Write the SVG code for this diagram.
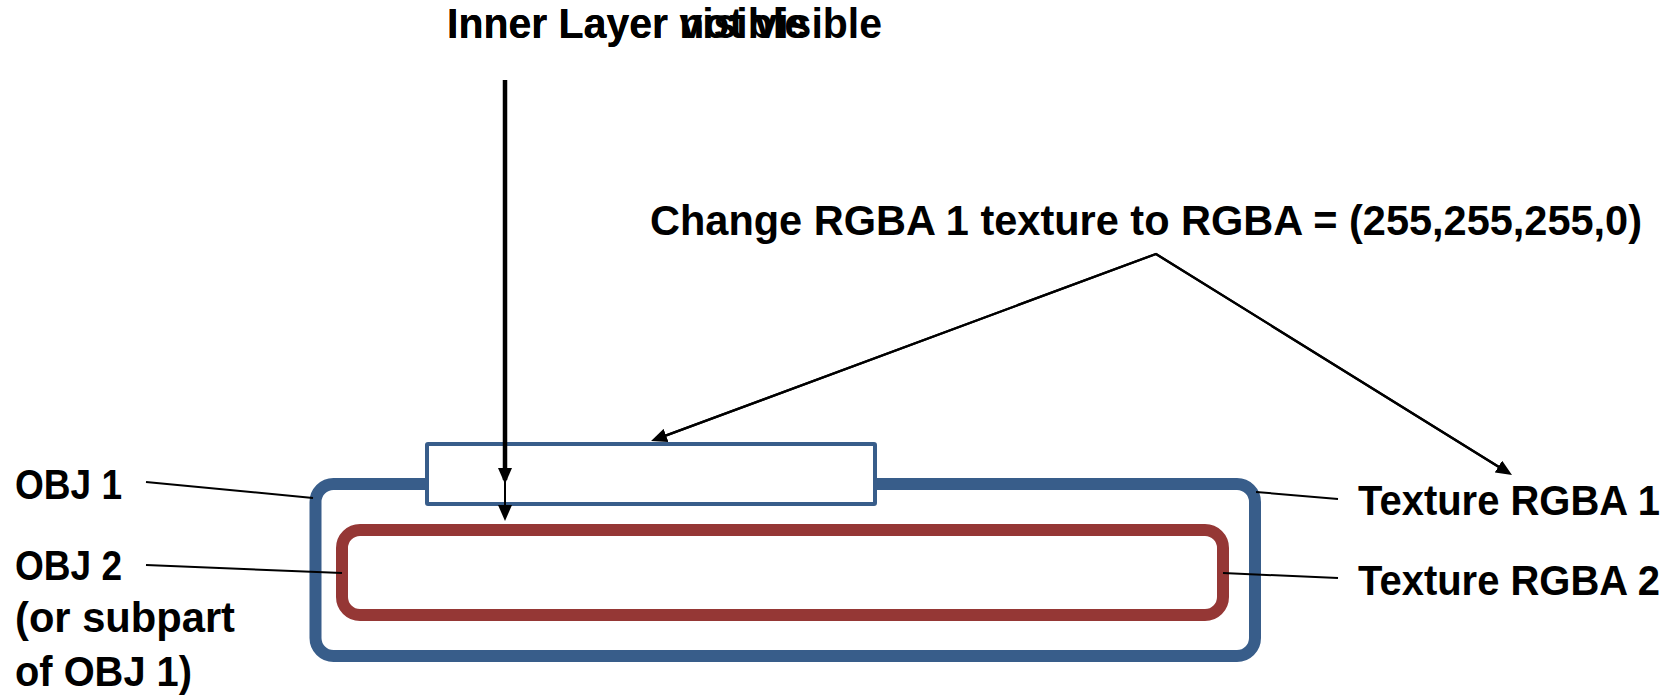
<svg xmlns="http://www.w3.org/2000/svg" width="1674" height="699" viewBox="0 0 1674 699">
  <style>
    .lbl { font-family: "Liberation Sans", Arial, sans-serif; font-weight: bold; font-size: 42px; fill: #000; }
    .obj1 { fill: none; stroke: #385D8A; stroke-width: 12; }
    .obj2 { fill: none; stroke: #953735; stroke-width: 12; }
    .layer { fill: #fff; stroke: #385D8A; stroke-width: 4; }
    .lead { stroke: #000; stroke-width: 2; fill: none; }
    .conn { stroke: #000; stroke-width: 2.3; fill: none; marker-end: url(#arrow); }
    .thick { stroke-width: 4.5; }
    .thin { stroke-width: 2; }
  </style>
  <defs>
    <marker id="arrow" viewBox="0 0 16 14" markerWidth="16" markerHeight="14" refX="12" refY="7" markerUnits="userSpaceOnUse" orient="auto">
      <path d="M0,0 L16,7 L0,14 z" fill="#000"/>
    </marker>
  </defs>

  <rect width="1674" height="699" fill="#fff"/>

  <!-- outer object (texture RGBA 1) -->
  <g id="obj1">
    <rect class="obj1" x="315.5" y="484" width="939.5" height="172" rx="18" ry="18"/>
  </g>

  <!-- inner object (texture RGBA 2) -->
  <g id="obj2">
    <rect class="obj2" x="342" y="530" width="881" height="85" rx="18" ry="18"/>
  </g>

  <!-- transparent window in the outer layer -->
  <g id="window">
    <rect class="layer" x="427" y="444" width="448" height="60" rx="1"/>
  </g>

  <!-- captions -->
  <g id="title">
    <text class="lbl" x="447" y="38" textLength="435" lengthAdjust="spacingAndGlyphs">Inner Layer not visible</text>
    <text class="lbl" x="447" y="38" textLength="360" lengthAdjust="spacingAndGlyphs">Inner Layer visible</text>
  </g>
  <g id="change-label">
    <text class="lbl" x="650" y="235" textLength="992" lengthAdjust="spacingAndGlyphs">Change RGBA 1 texture to RGBA = (255,255,255,0)</text>
  </g>
  <g id="obj1-label">
    <text class="lbl" x="15" y="499" textLength="107" lengthAdjust="spacingAndGlyphs">OBJ 1</text>
  </g>
  <g id="obj2-label">
    <text class="lbl" x="15" y="580" textLength="107" lengthAdjust="spacingAndGlyphs">OBJ 2</text>
    <text class="lbl" x="15" y="632" textLength="220" lengthAdjust="spacingAndGlyphs">(or subpart</text>
    <text class="lbl" x="15" y="686" textLength="177" lengthAdjust="spacingAndGlyphs">of OBJ 1)</text>
  </g>
  <g id="tex1-label">
    <text class="lbl" x="1358" y="515" textLength="302" lengthAdjust="spacingAndGlyphs">Texture RGBA 1</text>
  </g>
  <g id="tex2-label">
    <text class="lbl" x="1358" y="595" textLength="302" lengthAdjust="spacingAndGlyphs">Texture RGBA 2</text>
  </g>

  <!-- connectors and leader lines -->
  <g id="connectors">
    <line class="lead" x1="146" y1="482" x2="313" y2="498"/>
    <line class="lead" x1="146" y1="565" x2="342" y2="573"/>
    <line class="lead" x1="1256" y1="492" x2="1338" y2="499"/>
    <line class="lead" x1="1223" y1="573" x2="1338" y2="578"/>

    <polyline class="lead" points="654.8,439.6 1156,254 1508.6,472.9" style="stroke-width:2.3"/>
    <line class="conn" x1="1156" y1="254" x2="654.8" y2="439.6"/>
    <line class="conn" x1="1156" y1="254" x2="1508.6" y2="472.9"/>

    <line class="conn thick" x1="505" y1="80" x2="505" y2="480"/>
    <line class="conn thin" x1="505" y1="480" x2="505" y2="517"/>
  </g>
</svg>
